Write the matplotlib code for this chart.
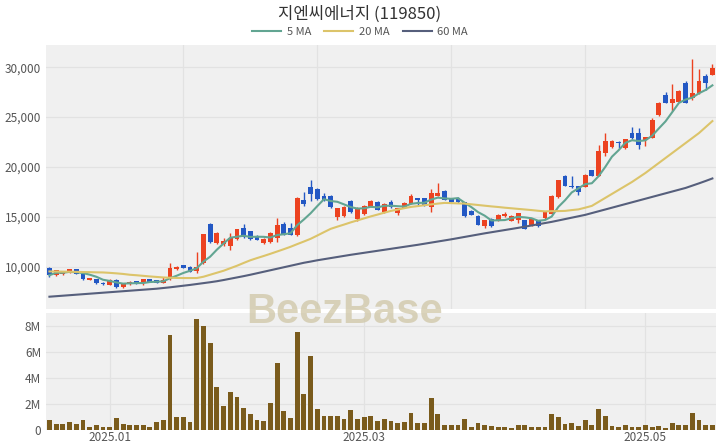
import matplotlib
matplotlib.use("Agg")
import matplotlib.pyplot as plt
from matplotlib.ticker import FuncFormatter
import numpy as np
import pandas as pd

plt.rcParams["font.family"] = ["Noto Sans CJK KR", "DejaVu Sans"]

# ── data ─────────────────────────────────────────────────────────────────────
HOLIDAYS = ["2024-12-25", "2024-12-31", "2025-01-01", "2025-01-27", "2025-01-28",
            "2025-01-29", "2025-01-30", "2025-03-03", "2025-05-01", "2025-05-05",
            "2025-05-06"]
dates = [d for d in pd.bdate_range("2024-12-17", "2025-05-20")
         if d.strftime("%Y-%m-%d") not in HOLIDAYS]

opens = [9870, 9150, 9250, 9400, 9750, 9300, 8700, 8750, 8400, 8200,
         8700, 8000, 8250, 8550, 8350, 8750, 8650, 8400, 8750, 9750,
         10150, 10000, 9550, 10400, 14300, 12350, 12250, 12100, 12800, 13900,
         13550, 13100, 12350, 12450, 12900, 14300, 13850, 13150, 16700, 18000,
         17800, 17100, 17100, 14950, 15100, 16600, 14800, 15250, 16000, 16500,
         15450, 16500, 15350, 15900, 16300, 16850, 16850, 15950, 17100, 17600,
         16850, 16850, 16450, 15600, 15100, 14100, 14800, 14600, 15050, 14600,
         14650, 14650, 14200, 14650, 14850, 15300, 16950, 19100, 18100, 18050,
         18000, 19650, 19100, 21450, 22000, 22550, 21950, 23450, 23450, 22700,
         22950, 25200, 27200, 26450, 26550, 28450, 26950, 27400, 29100, 29250]
highs = [9950, 9700, 9500, 9800, 9800, 9400, 8900, 8800, 8450, 8750,
         8750, 8300, 8550, 8600, 8800, 8800, 8700, 9000, 10400, 10050,
         10200, 10050, 11500, 13300, 14400, 13450, 12900, 13400, 13800, 14300,
         13600, 13200, 12900, 13450, 14850, 14450, 14400, 16950, 17500, 18700,
         17900, 17400, 17150, 15900, 16100, 16700, 16000, 16200, 16700, 16600,
         16350, 16700, 15900, 16500, 17300, 16900, 16900, 17750, 18400, 17700,
         16900, 16950, 16500, 15650, 15150, 14700, 14850, 15250, 15450, 15150,
         15400, 14700, 14800, 14700, 15500, 17150, 18700, 19150, 19050, 18100,
         19250, 19700, 22200, 23400, 22700, 22600, 22850, 24000, 23950, 23050,
         24900, 26500, 27500, 28300, 27700, 28600, 30800, 29800, 29300, 30300]
lows = [8950, 9050, 9150, 9350, 9250, 8650, 8650, 8300, 8200, 8150,
        7900, 7850, 8200, 8300, 8200, 8450, 8350, 8350, 8700, 9700,
        9850, 9450, 9400, 10300, 12400, 12300, 12100, 11700, 12700, 12900,
        12700, 12650, 12300, 12400, 12500, 13150, 13150, 13100, 16100, 16600,
        16700, 16600, 15850, 14700, 15000, 15400, 14600, 15200, 15950, 15650,
        15400, 15900, 15200, 15850, 16250, 16200, 16050, 15450, 17050, 16650,
        16400, 16400, 14950, 15150, 14150, 13850, 14000, 14550, 14950, 14550,
        14400, 13750, 14100, 13950, 14800, 15250, 16900, 18050, 17900, 17200,
        17950, 19050, 19050, 21100, 21950, 21900, 21800, 22850, 21800, 22100,
        22900, 25150, 26400, 25600, 26500, 26400, 26700, 27300, 27700, 29200]
closes = [9150, 9650, 9400, 9750, 9300, 8750, 8850, 8350, 8250, 8700,
          8000, 8250, 8500, 8350, 8750, 8500, 8400, 8700, 9900, 10000,
          9900, 9500, 9950, 13250, 12450, 13400, 12600, 12850, 13750, 12950,
          12800, 12700, 12800, 13400, 14200, 13200, 13200, 16850, 16250, 17300,
          16800, 16650, 15950, 15850, 16000, 15450, 15900, 16100, 16600, 15700,
          16250, 15950, 15850, 16400, 17100, 16650, 16100, 17400, 17400, 16700,
          16450, 16450, 15100, 15200, 14200, 14650, 14050, 15200, 15300, 15100,
          15350, 13800, 14750, 14050, 15450, 17100, 18650, 18100, 17950, 17500,
          19200, 19100, 21600, 22600, 22650, 22450, 22800, 22900, 22200, 23000,
          24750, 26450, 26450, 26800, 27650, 26450, 27400, 28650, 28450, 29950]
volumes = [0.80, 0.50, 0.50, 0.60, 0.50, 0.80, 0.27, 0.37, 0.20, 0.22,
           0.95, 0.45, 0.40, 0.40, 0.42, 0.20, 0.60, 0.80, 7.30, 1.00,
           0.98, 0.60, 8.50, 8.00, 6.65, 3.30, 1.82, 2.90, 2.55, 1.67,
           1.20, 0.74, 0.72, 2.10, 5.12, 1.48, 0.95, 7.55, 2.75, 5.65,
           1.60, 1.07, 1.10, 1.10, 0.85, 1.55, 0.85, 0.98, 1.06, 0.66,
           0.85, 0.66, 0.58, 0.60, 1.32, 0.53, 0.53, 2.43, 1.24, 0.42,
           0.37, 0.42, 0.82, 0.24, 0.53, 0.42, 0.32, 0.26, 0.26, 0.16,
           0.37, 0.37, 0.26, 0.26, 0.26, 1.27, 1.00, 0.48, 0.53, 0.32,
           0.74, 0.42, 1.59, 1.10, 0.32, 0.27, 0.37, 0.27, 0.27, 0.37,
           0.27, 0.32, 0.16, 0.53, 0.37, 0.42, 1.30, 0.80, 0.42, 0.42]  # millions
ma20 = [9530, 9520, 9510, 9500, 9490, 9470, 9460, 9440, 9430, 9390,
        9340, 9280, 9200, 9150, 9090, 9030, 8980, 8930, 8900, 8880,
        8870, 8870, 8870, 9000, 9200, 9400, 9600, 9850, 10100, 10380,
        10650, 10870, 11080, 11300, 11530, 11760, 12000, 12270, 12530, 12800,
        13130, 13470, 13800, 14020, 14230, 14450, 14650, 14850, 15050, 15230,
        15420, 15600, 15730, 15870, 16000, 16080, 16170, 16250, 16330, 16400,
        16380, 16350, 16330, 16260, 16190, 16120, 16050, 15990, 15920, 15860,
        15800, 15740, 15680, 15610, 15550, 15570, 15580, 15600, 15680, 15750,
        15920, 16100, 16500, 16900, 17300, 17700, 18100, 18500, 18950, 19400,
        19900, 20400, 20900, 21400, 21900, 22400, 22900, 23400, 24000, 24600]
ma60 = [7000, 7050, 7100, 7150, 7200, 7250, 7300, 7350, 7400, 7450,
        7500, 7550, 7600, 7650, 7700, 7750, 7800, 7870, 7940, 8020,
        8100, 8180, 8270, 8360, 8450, 8550, 8670, 8800, 8930, 9060,
        9200, 9350, 9500, 9650, 9800, 9950, 10100, 10250, 10400, 10520,
        10650, 10760, 10870, 10980, 11090, 11200, 11300, 11400, 11500, 11600,
        11700, 11800, 11900, 12000, 12100, 12200, 12310, 12420, 12530, 12640,
        12750, 12870, 12990, 13110, 13230, 13350, 13460, 13570, 13680, 13790,
        13900, 14020, 14140, 14260, 14380, 14500, 14640, 14780, 14920, 15060,
        15200, 15380, 15560, 15740, 15920, 16100, 16280, 16460, 16640, 16820,
        17000, 17180, 17360, 17540, 17720, 17900, 18130, 18360, 18600, 18850]

# ── colours ──────────────────────────────────────────────────────────────────
UP, DOWN = "#ec4220", "#2358c4"
MA5_C, MA20_C, MA60_C = "#62a592", "#dcc46a", "#565f7c"
VOL_C = "#7a5b1c"
BG, GRID = "#f0f0f0", "#e2e2e2"
TXT = "#555555"

df = pd.DataFrame({"open": opens, "high": highs, "low": lows,
                   "close": closes, "vol": volumes})
df["ma5"] = df["close"].rolling(5, min_periods=1).mean()
x = np.arange(len(df))

fig = plt.figure(figsize=(7.2, 4.48), dpi=100)
fig.patch.set_facecolor("white")
ax = fig.add_axes([0.064, 0.311, 0.931, 0.588])
axv = fig.add_axes([0.064, 0.040, 0.931, 0.262])

for a in (ax, axv):
    a.set_facecolor(BG)
    for s in a.spines.values():
        s.set_visible(False)
    a.tick_params(length=0, labelsize=8.5, colors=TXT)
    a.set_xlim(-0.5, len(df) - 0.4)

# ── price panel ──────────────────────────────────────────────────────────────
up = df["close"] >= df["open"]
colors = np.where(up, UP, DOWN)
body_lo = np.minimum(df["open"], df["close"])
body_h = np.maximum((df["close"] - df["open"]).abs(), 60)
ax.vlines(x, df["low"], df["high"], colors=colors, lw=1.0, zorder=3)
ax.bar(x, body_h, bottom=body_lo, width=0.72, color=colors, zorder=4)

ax.plot(x, df["ma5"], color=MA5_C, lw=1.5, zorder=5, label="5 MA")
ax.plot(x, ma20, color=MA20_C, lw=1.5, zorder=5, label="20 MA")
ax.plot(x, ma60, color=MA60_C, lw=1.5, zorder=5, label="60 MA")

ax.set_ylim(5800, 32200)
ax.set_yticks([10000, 15000, 20000, 25000, 30000])
ax.yaxis.set_major_formatter(FuncFormatter(lambda v, p: f"{int(v):,}"))
ax.set_xticks([20, 40, 60, 80])
ax.set_xticklabels([])
ax.grid(True, color=GRID, lw=0.9, zorder=0)
ax.set_axisbelow(True)

# ── volume panel ─────────────────────────────────────────────────────────────
axv.bar(x, df["vol"] * 1e6, width=0.72, color=VOL_C, zorder=3)
axv.set_ylim(0, 9.0e6)
axv.set_yticks([0, 2e6, 4e6, 6e6, 8e6])
axv.yaxis.set_major_formatter(
    FuncFormatter(lambda v, p: "0" if v == 0 else f"{int(v / 1e6)}M"))

month_pos, month_lbl = [], []
if len(dates) == len(df):
    for i, d in enumerate(dates):
        if d.month in (1, 3, 5) and (i == 0 or dates[i - 1].month != d.month):
            month_pos.append(i)
            month_lbl.append(d.strftime("%Y.%m"))
axv.set_xticks(month_pos)
axv.set_xticklabels(month_lbl)
axv.tick_params(axis="x", pad=1)
axv.grid(True, color=GRID, lw=0.9, zorder=0)
axv.set_axisbelow(True)

# ── title, legend, watermark ─────────────────────────────────────────────────
fig.text(0.5, 0.968, "지엔씨에너지 (119850)", ha="center", va="center",
         fontsize=12, color="#333333")
fig.legend(*ax.get_legend_handles_labels(), loc="center",
           bbox_to_anchor=(0.5, 0.928), ncol=3, frameon=False,
           fontsize=8, handlelength=2.6, columnspacing=1.2,
           handletextpad=0.5, labelcolor=TXT)
fig.text(0.478, 0.303, "BeezBase", ha="center", va="center",
         fontsize=30, fontweight="bold", family="Liberation Sans",
         color="#cfc6a6", alpha=0.75, zorder=10)

fig.savefig("out.png", dpi=100, facecolor="white")
